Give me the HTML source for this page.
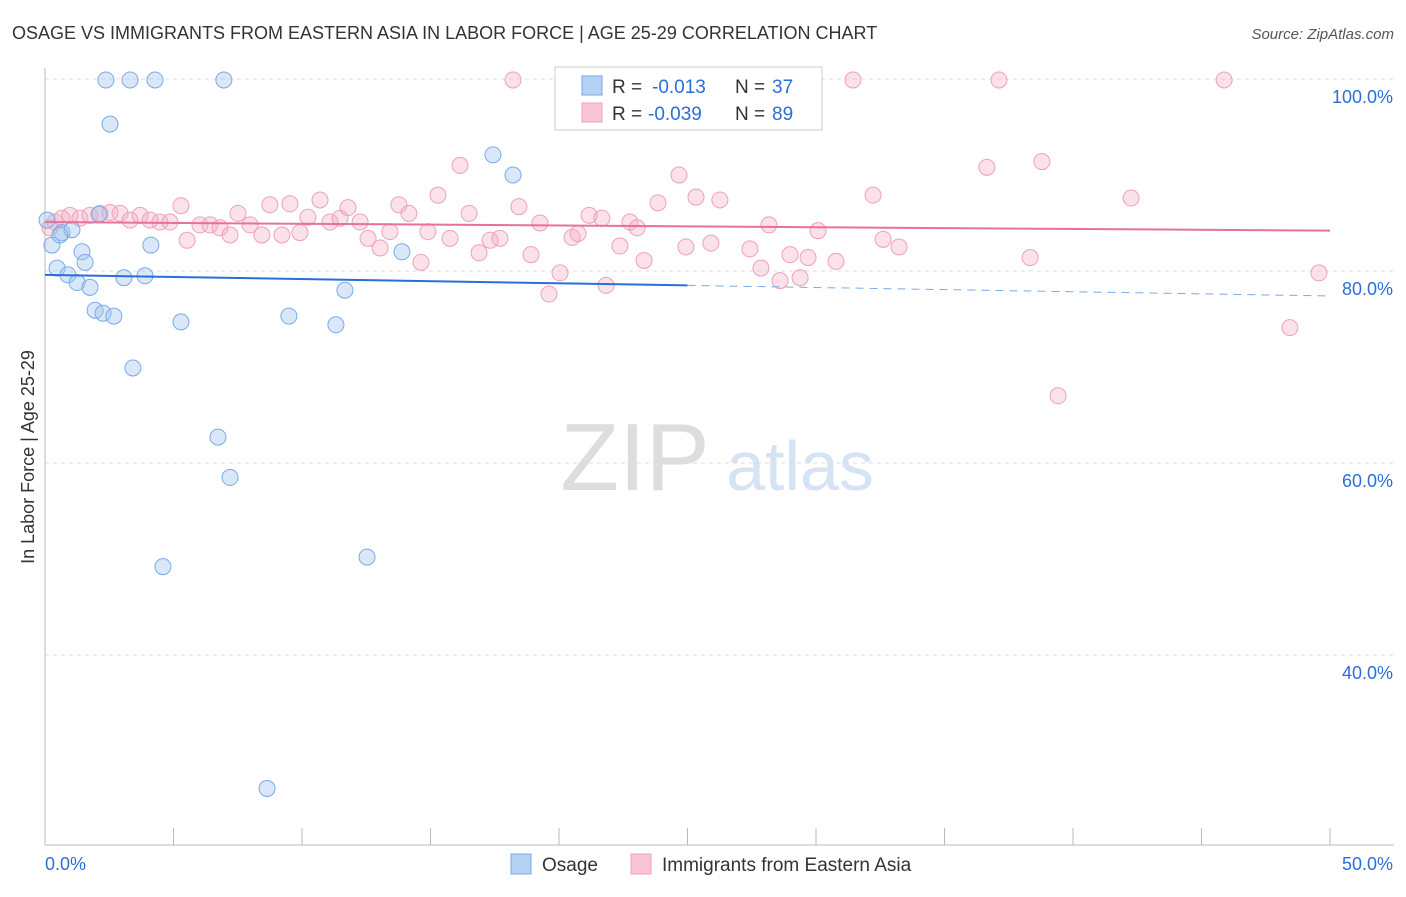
<!DOCTYPE html>
<html><head><meta charset="utf-8"><style>
body{margin:0;background:#fff;font-family:"Liberation Sans",sans-serif;}
svg text{font-family:"Liberation Sans",sans-serif;}
</style></head><body>
<svg id="chart" width="1406" height="892" xmlns="http://www.w3.org/2000/svg">
<text x="12" y="39" font-size="18" fill="#333">OSAGE VS IMMIGRANTS FROM EASTERN ASIA IN LABOR FORCE | AGE 25-29 CORRELATION CHART</text>
<text x="1394" y="39" font-size="15" fill="#555" text-anchor="end" font-style="italic">Source: ZipAtlas.com</text>
<text transform="translate(34,457) rotate(-90)" font-size="18" fill="#333" text-anchor="middle">In Labor Force | Age 25-29</text>
<g>
<text x="635" y="490" font-size="96" fill="#ddd" text-anchor="middle" font-family="Liberation Serif">ZIP</text>
<text x="800" y="490" font-size="70" fill="#d5e3f3" text-anchor="middle">atlas</text>
</g>
<g id="grid"></g><g id="axes"></g><g id="pts"></g><g id="trend"></g>
<g>
<rect x="555" y="67" width="267" height="63" fill="#fff" stroke="#ccc"/>
<rect x="582" y="76" width="20" height="19" fill="#b7d1f5" stroke="#7aaae8"/>
<rect x="582" y="103" width="20" height="19" fill="#f9c4d4" stroke="#eea0bb"/>
<text x="612" y="93" font-size="19" fill="#333">R =</text>
<text x="652" y="93" font-size="19" fill="#2a6fd6">-0.013</text>
<text x="735" y="93" font-size="19" fill="#333">N =</text>
<text x="772" y="93" font-size="19" fill="#2a6fd6">37</text>
<text x="612" y="120" font-size="19" fill="#333">R =</text>
<text x="648" y="120" font-size="19" fill="#2a6fd6">-0.039</text>
<text x="735" y="120" font-size="19" fill="#333">N =</text>
<text x="772" y="120" font-size="19" fill="#2a6fd6">89</text>
</g>
<g>
<rect x="511" y="854" width="20" height="20" fill="#b7d1f5" stroke="#7aaae8"/>
<text x="542" y="871" font-size="19" fill="#333">Osage</text>
<rect x="631" y="854" width="20" height="20" fill="#f9c4d4" stroke="#eea0bb"/>
<text x="662" y="871" font-size="19" fill="#333">Immigrants from Eastern Asia</text>
</g>
</svg>
<script>
const blueX=[0.08,0.27,0.47,0.66,0.89,1.05,1.25,1.44,1.56,1.75,1.95,2.1,2.26,2.37,2.53,2.68,3.07,3.31,3.42,3.89,4.12,4.28,4.59,5.29,6.73,6.96,7.2,8.64,9.49,11.32,11.67,12.53,13.89,17.43,18.21,22.72,0.58];
const blueY=[85.3,82.7,80.3,84.0,79.6,84.3,78.8,82.0,80.9,78.3,75.9,85.9,75.6,99.9,95.3,75.3,79.3,99.9,69.9,79.5,82.7,99.9,49.2,74.7,62.7,99.9,58.5,26.1,75.3,74.4,78.0,50.2,82.0,92.1,90.0,99.9,83.75];
const pinkX=[0.19,0.39,0.66,0.97,1.36,1.75,2.14,2.53,2.92,3.31,3.7,4.09,4.47,4.86,5.29,5.53,6.03,6.42,6.81,7.2,7.51,7.98,8.44,8.75,9.22,9.53,9.92,10.23,10.7,11.09,11.48,11.79,12.26,12.57,13.04,13.42,13.77,14.16,14.63,14.9,15.29,15.76,16.15,16.5,16.89,17.32,17.7,18.21,18.44,18.91,19.26,19.61,20.04,20.51,20.74,21.17,21.67,21.83,22.37,22.76,23.04,23.31,23.85,24.67,24.94,25.33,25.91,26.26,27.43,27.86,28.17,28.6,28.99,29.38,29.69,30.08,30.78,31.44,32.22,32.61,33.23,36.65,37.12,38.33,38.79,39.42,42.26,45.88,48.44,49.57];
const pinkY=[84.5,85.1,85.5,85.8,85.5,85.8,86.0,86.1,86.0,85.3,85.8,85.3,85.1,85.1,86.8,83.2,84.8,84.8,84.5,83.75,86.0,84.8,83.75,86.9,83.75,87.0,84.0,85.6,87.4,85.1,85.5,86.6,85.1,83.4,82.4,84.1,86.9,86.0,80.9,84.1,87.9,83.4,91.0,86.0,81.9,83.2,83.4,99.9,86.7,81.7,85.0,77.6,79.8,83.5,83.9,85.8,85.5,78.5,82.6,85.1,84.5,81.1,87.1,90.0,82.5,87.7,82.9,87.4,82.3,80.3,84.8,79.0,81.7,79.3,81.4,84.2,81.0,99.9,87.9,83.3,82.5,90.8,99.9,81.4,91.4,67.0,87.6,99.9,74.1,79.8];
const yTicks=[100,80,60,40];
const yTickLabels=["100.0%","80.0%","60.0%","40.0%"];
const blueTrend=[79.6,78.5];
const pinkTrend=[85.1,84.2];
const NS="http://www.w3.org/2000/svg";
const X=v=>45+v*25.7, Y=v=>79+(100-v)*9.6;
function mk(p,t,a){const e=document.createElementNS(NS,t);for(const k in a)e.setAttribute(k,a[k]);document.getElementById(p).appendChild(e);return e;}
yTicks.forEach((t,i)=>{
 const l=mk('grid','line',{x1:45,x2:1394,y1:Y(t),y2:Y(t),stroke:'#ddd','stroke-dasharray':'4,4'});
 
 
 const tx=mk('grid','text',{x:1393,y:Y(t)+24,'font-size':18,fill:'#2a6fd6','text-anchor':'end'});
 tx.textContent=yTickLabels[i];
 
 
});
let a=mk('axes','line',{x1:45,x2:45,y1:68,y2:845,stroke:'#bbb'});


a=mk('axes','line',{x1:45,x2:1394,y1:845,y2:845,stroke:'#bbb'});


for(let i=1;i<=10;i++){const t=mk('axes','line',{x1:X(i*5),x2:X(i*5),y1:828,y2:845,stroke:'#bbb'});
 
 }
let t0=mk('axes','text',{x:45,y:870,'font-size':18,fill:'#2a6fd6'});t0.textContent='0.0%';


t0=mk('axes','text',{x:1393,y:870,'font-size':18,fill:'#2a6fd6','text-anchor':'end'});t0.textContent='50.0%';


pinkX.forEach((x,i)=>{const c=mk('pts','circle',{cx:X(x),cy:Y(pinkY[i]),r:8,fill:'rgba(244,170,195,0.35)',stroke:'#eea0bb','stroke-width':1});
 
 });
blueX.forEach((x,i)=>{const c=mk('pts','circle',{cx:X(x),cy:Y(blueY[i]),r:8,fill:'rgba(160,196,240,0.4)',stroke:'#7aaae8','stroke-width':1});
 
 });
const bAt=v=>blueTrend[0]+(blueTrend[1]-blueTrend[0])*v/25;
let l=mk('trend','line',{x1:X(0),y1:Y(bAt(0)),x2:X(25),y2:Y(bAt(25)),stroke:'#2a6fd6','stroke-width':2});


l=mk('trend','line',{x1:X(25),y1:Y(bAt(25)),x2:X(50),y2:Y(bAt(50)),stroke:'#7aaae8','stroke-width':1,'stroke-dasharray':'8,6'});


l=mk('trend','line',{x1:X(0),y1:Y(pinkTrend[0]),x2:X(50),y2:Y(pinkTrend[1]),stroke:'#e8709a','stroke-width':2});


</script>
</body></html>
